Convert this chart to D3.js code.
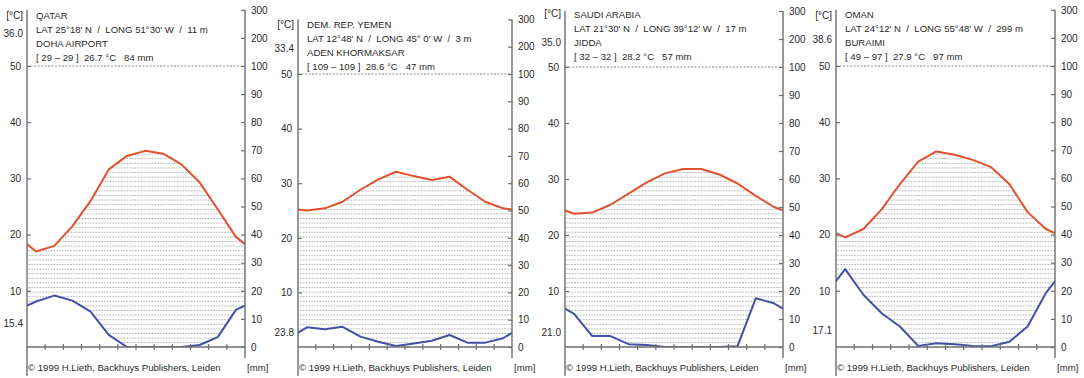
<!DOCTYPE html>
<html>
<head>
<meta charset="utf-8">
<script src="https://cdn.jsdelivr.net/npm/d3@7"></script>
<style>
  body { margin: 0; background: #fff; }
  svg text { font-family: "Liberation Sans", Arial, sans-serif; fill: #2a2a2a; white-space: pre; }
</style>
</head>
<body>
<svg id="chart" width="1084" height="378"></svg>
<script>
// station texts
var stationNames = ["QATAR", "DEM. REP. YEMEN", "SAUDI ARABIA", "OMAN"];
var coordLines = [
  "LAT 25°18' N  /  LONG 51°30' W  /  11 m",
  "LAT 12°48' N  /  LONG 45° 0' W  /  3 m",
  "LAT 21°30' N  /  LONG 39°12' W  /  17 m",
  "LAT 24°12' N  /  LONG 55°48' W  /  299 m"
];
var siteNames = ["DOHA AIRPORT", "ADEN KHORMAKSAR", "JIDDA", "BURAIMI"];
var summaries = [
  "[ 29 – 29 ]  26.7 °C   84 mm",
  "[ 109 – 109 ]  28.6 °C   47 mm",
  "[ 32 – 32 ]  28.2 °C   57 mm",
  "[ 49 – 97 ]  27.9 °C   97 mm"
];
var maxTempLabels = ["36.0", "33.4", "35.0", "38.6"];
var minTempLabels = ["15.4", "23.8", "21.0", "17.1"];

// monthly means, Jan..Dec
var qatarTemp = [17.0, 18.0, 21.5, 26.0, 31.6, 34.0, 34.9, 34.4, 32.5, 29.3, 24.5, 19.6];
var qatarPrec = [16.2, 18.3, 16.5, 12.6, 4.3, 0, 0, 0, 0, 0.7, 3.5, 13.2];
var yemenTemp = [25.0, 25.4, 26.6, 28.8, 30.7, 32.1, 31.3, 30.6, 31.2, 28.8, 26.6, 25.4];
var yemenPrec = [7.2, 6.5, 7.4, 3.8, 1.9, 0.4, 1.3, 2.3, 4.4, 1.6, 1.6, 3.2];
var saudiTemp = [23.8, 24.0, 25.4, 27.4, 29.4, 31.0, 31.8, 31.8, 30.8, 29.2, 27.0, 25.0];
var saudiPrec = [11.8, 3.9, 3.9, 1.0, 0.7, 0, 0, 0, 0, 0.3, 17.4, 15.6];
var omanTemp = [19.5, 21.0, 24.5, 29.0, 33.0, 34.8, 34.2, 33.3, 32.0, 29.0, 24.0, 21.0];
var omanPrec = [27.7, 18.6, 12.0, 7.3, 0.4, 1.3, 1.0, 0.4, 0.3, 1.9, 7.3, 19.2];

var tempSeries = [qatarTemp, yemenTemp, saudiTemp, omanTemp];
var precSeries = [qatarPrec, yemenPrec, saudiPrec, omanPrec];

var tempTicks = [10, 20, 30, 40, 50];
var precTicks = [0, 10, 20, 30, 40, 50, 60, 70, 80, 90, 100, 200, 300];

// layout
var panelLeft = [27, 298, 565, 836];
var panelRight = [245, 512, 783, 1055];
var panelY50 = [66, 74, 67, 66];
var base = 347;
var headY = [15, 24, 14, 14];
var unitY = [15, 24.5, 13.5, 15];
var maxY = [33.5, 48, 42, 39];
var minY = [323, 332, 332, 330];

var red = "#e2512f", blue = "#454fa6", axisCol = "#6e6e6e";

var svg = d3.select("#chart");

var defs = svg.append("defs");
var pat = defs.append("pattern")
  .attr("id", "dots").attr("patternUnits", "userSpaceOnUse")
  .attr("width", 2.8).attr("height", 4.6);
pat.append("rect").attr("x", 0.6).attr("y", 1.8).attr("width", 1).attr("height", 1).attr("fill", "#808080");

stationNames.forEach(function(name, p) {
  var L = panelLeft[p], R = panelRight[p], y50 = panelY50[p];
  var g = svg.append("g");

  var x = d3.scaleLinear().domain([0, 12]).range([L, R]);
  var yT = d3.scaleLinear().domain([0, 50]).range([base, y50]);
  var step5 = (base - y50) / 10;
  var yTop = y50 - 2 * step5;
  var yP = d3.scaleLinear().domain([0, 100, 300]).range([base, y50, yTop]);

  defs.append("clipPath").attr("id", "clip" + p)
    .append("rect").attr("x", L).attr("y", yTop).attr("width", R - L).attr("height", base - yTop);

  // wrap Dec before Jan and Jan after Dec, clipped to the frame
  var temp = tempSeries[p], prec = precSeries[p];
  var pts = [{m: -0.5, t: temp[11], r: prec[11]}];
  temp.forEach(function(t, i) { pts.push({m: i + 0.5, t: t, r: prec[i]}); });
  pts.push({m: 12.5, t: temp[0], r: prec[0]});

  var plot = g.append("g").attr("clip-path", "url(#clip" + p + ")");

  plot.append("path").datum(pts)
    .attr("fill", "url(#dots)")
    .attr("d", d3.area().x(function(d) { return x(d.m); })
      .y0(function(d) { return yP(d.r); })
      .y1(function(d) { return yT(d.t); }));

  plot.append("path").datum(pts)
    .attr("fill", "none").attr("stroke", blue).attr("stroke-width", 2)
    .attr("stroke-linejoin", "round")
    .attr("d", d3.line().x(function(d) { return x(d.m); }).y(function(d) { return yP(d.r); }));

  plot.append("path").datum(pts)
    .attr("fill", "none").attr("stroke", red).attr("stroke-width", 2)
    .attr("stroke-linejoin", "round")
    .attr("d", d3.line().x(function(d) { return x(d.m); }).y(function(d) { return yT(d.t); }));

  // dashed 50 / 100 line
  g.append("line")
    .attr("x1", L).attr("x2", R).attr("y1", yT(50)).attr("y2", yT(50))
    .attr("stroke", "#8a8a8a").attr("stroke-width", 1).attr("stroke-dasharray", "2,1.5");

  // baseline with month ticks
  g.append("line").attr("x1", L).attr("x2", R).attr("y1", base).attr("y2", base)
    .attr("stroke", axisCol).attr("stroke-width", 1.3);
  g.selectAll(".mt").data(d3.range(1, 12)).enter().append("line")
    .attr("x1", function(d) { return x(d); }).attr("x2", function(d) { return x(d); })
    .attr("y1", base - 3).attr("y2", base + 3)
    .attr("stroke", axisCol).attr("stroke-width", 1.2);

  // left axis
  var la = g.append("g").attr("transform", "translate(" + L + ",0)")
    .call(d3.axisLeft(yT).tickValues(tempTicks).tickSize(-4).tickPadding(6).tickFormat(d3.format("d")));
  la.select(".domain").remove();
  la.selectAll("line").attr("stroke", axisCol).attr("stroke-width", 1.2);
  la.selectAll("text").attr("font-size", 10).style("fill", "#2a2a2a");
  g.append("line").attr("x1", L).attr("x2", L).attr("y1", yTop).attr("y2", 376)
    .attr("stroke", axisCol).attr("stroke-width", 1.4);

  // right axis
  var ra = g.append("g").attr("transform", "translate(" + R + ",0)")
    .call(d3.axisRight(yP).tickValues(precTicks).tickSize(-4).tickPadding(6).tickFormat(d3.format("d")));
  ra.select(".domain").remove();
  ra.selectAll("line").attr("stroke", axisCol).attr("stroke-width", 1.2);
  ra.selectAll("text").attr("font-size", 10).style("fill", "#2a2a2a");
  g.append("line").attr("x1", R).attr("x2", R).attr("y1", yTop).attr("y2", 358)
    .attr("stroke", axisCol).attr("stroke-width", 1.4);

  // left labels
  g.append("text").attr("x", L - 4).attr("y", unitY[p] + 3.5).attr("text-anchor", "end")
    .attr("font-size", 10).text("[°C]");
  g.append("text").attr("x", L - 4).attr("y", maxY[p] + 3.5).attr("text-anchor", "end")
    .attr("font-size", 10).text(maxTempLabels[p]);
  g.append("text").attr("x", L - 4).attr("y", minY[p] + 3.5).attr("text-anchor", "end")
    .attr("font-size", 10).text(minTempLabels[p]);

  // header
  var lines = [name, coordLines[p], siteNames[p], summaries[p]];
  g.selectAll(".hd").data(lines).enter().append("text")
    .attr("x", L + 9).attr("y", function(d, i) { return headY[p] + i * 14 + 3.5; })
    .attr("font-size", 9.6).text(function(d) { return d; });

  // footer
  g.append("text").attr("x", L + 1).attr("y", 371).attr("font-size", 9.6)
    .text("© 1999 H.Lieth, Backhuys Publishers, Leiden");
  g.append("text").attr("x", R + 2).attr("y", 371).attr("font-size", 9.6).text("[mm]");
});
</script>
</body>
</html>
